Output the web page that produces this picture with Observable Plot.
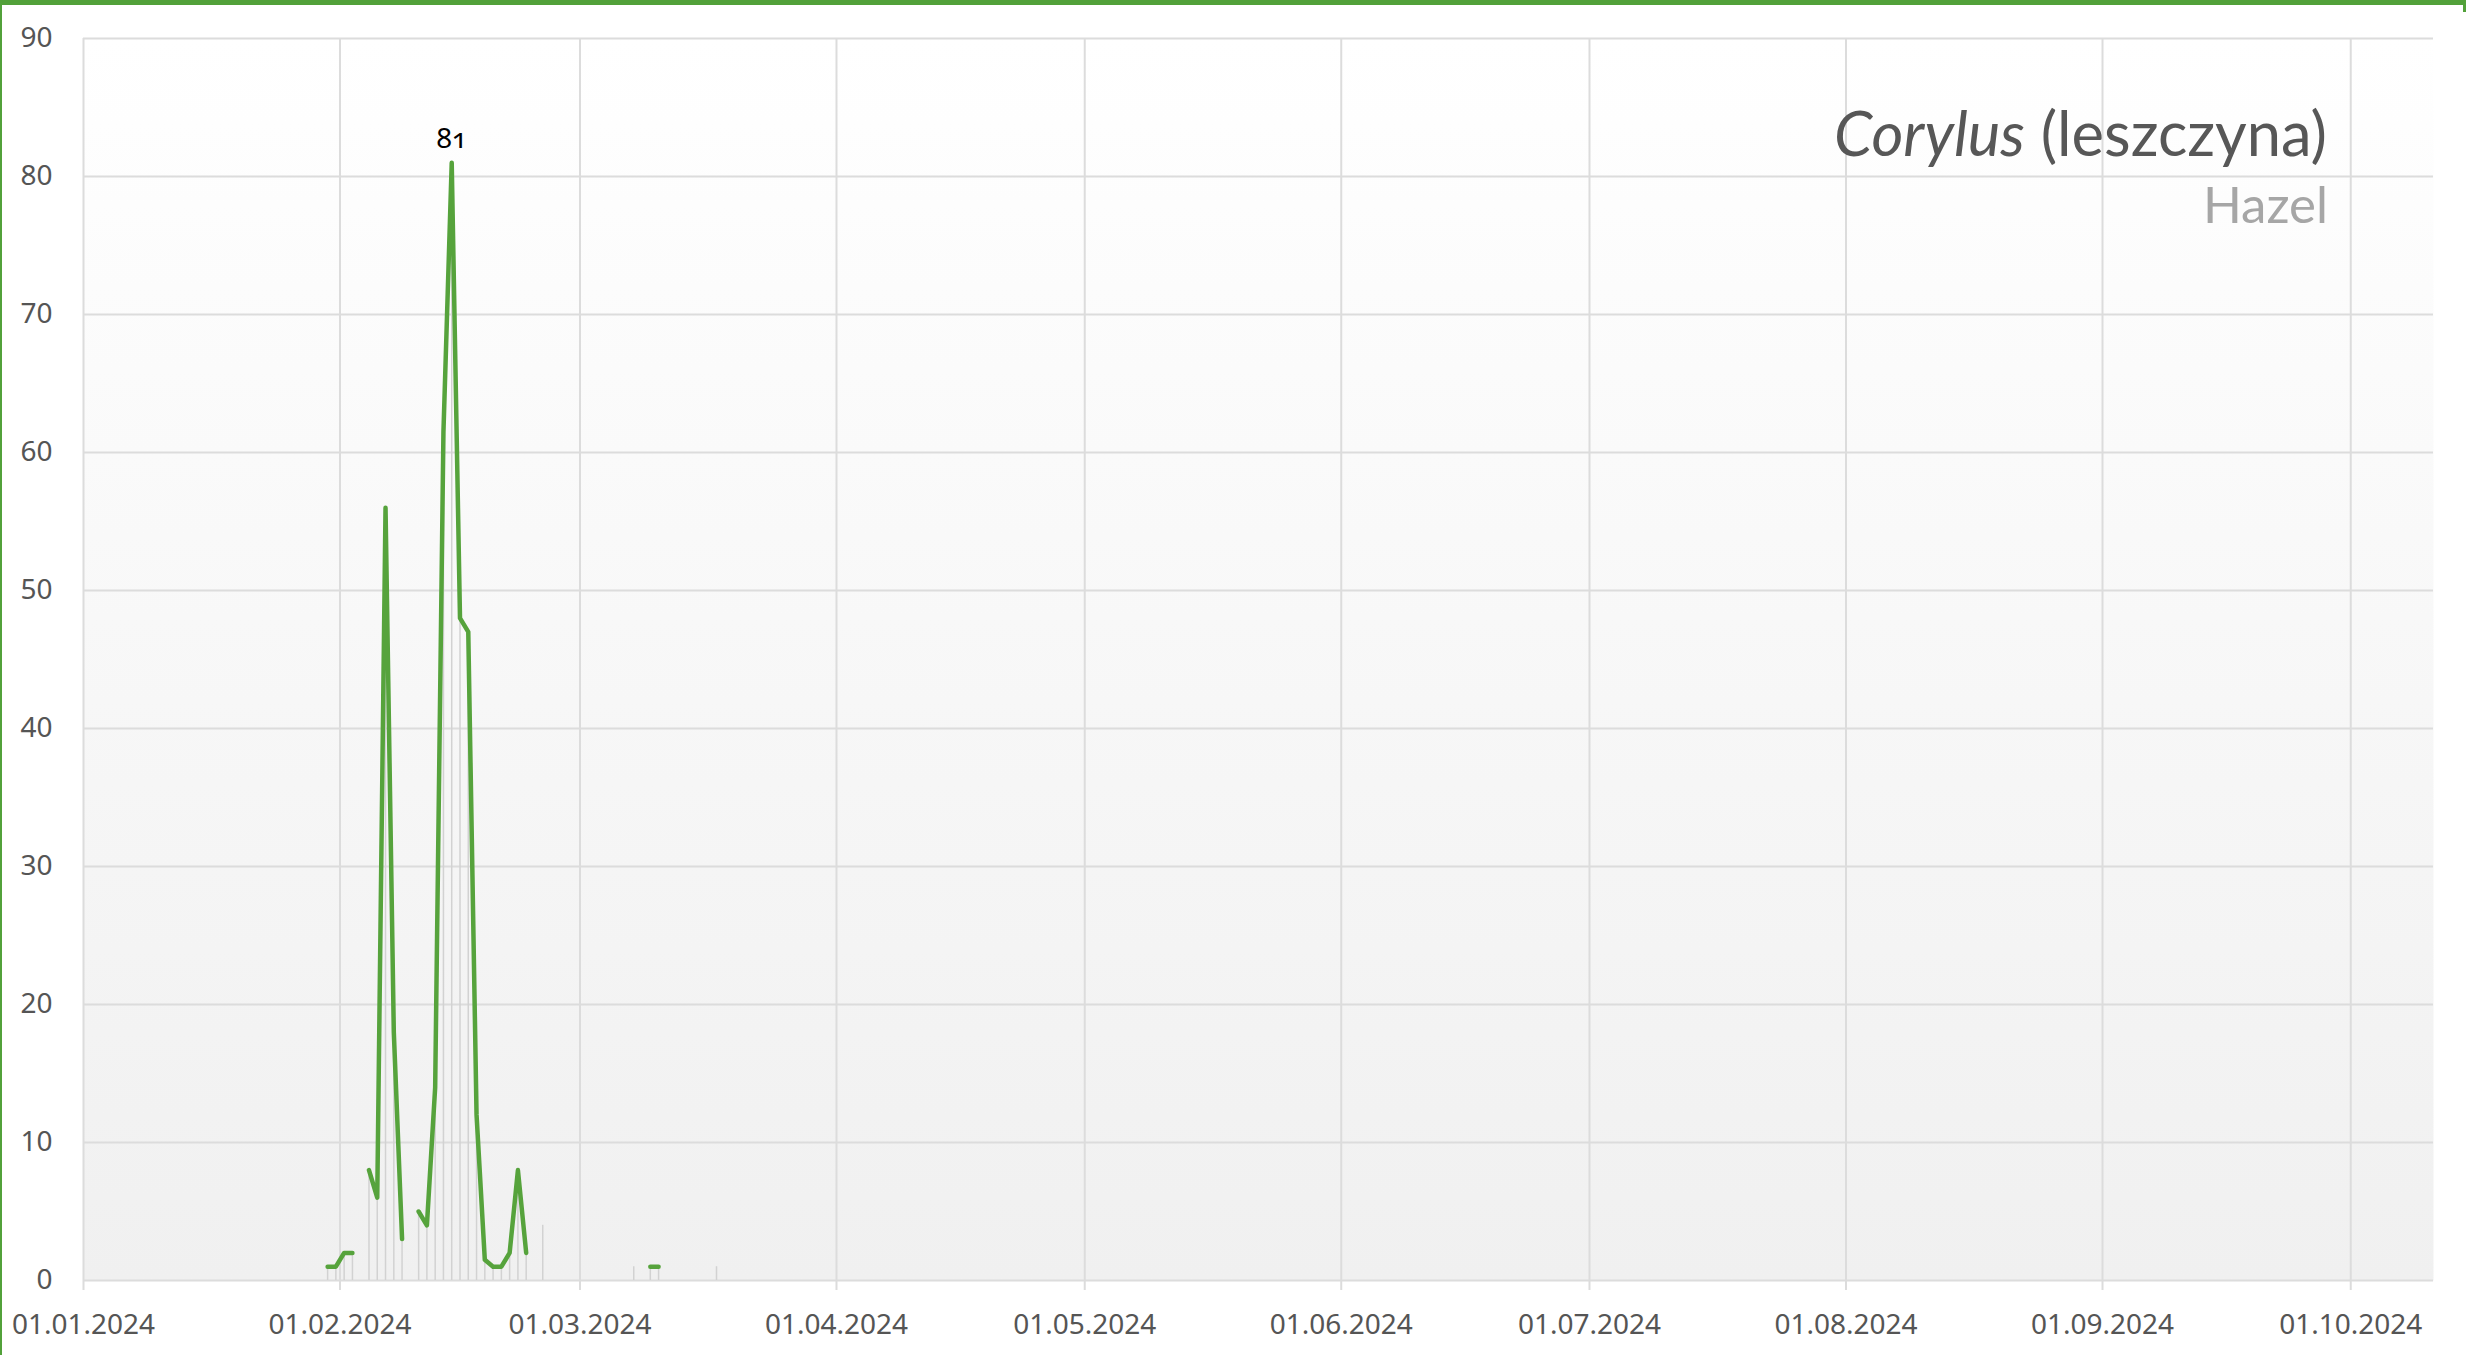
<!DOCTYPE html>
<html><head><meta charset="utf-8">
<script src="https://cdn.jsdelivr.net/npm/d3@7"></script>
<script src="https://cdn.jsdelivr.net/npm/@observablehq/plot@0.6"></script>
<style>
html,body{margin:0;padding:0;background:#fff;}
#wrap{position:relative;width:2466px;height:1355px;overflow:hidden;}
.edge{position:absolute;background:#52a13a;}
</style></head><body>
<div id="wrap"></div>
<script>
// ---- data ----
const days = [
  "2024-01-30","2024-01-31","2024-02-01","2024-02-02","2024-02-03","2024-02-04","2024-02-05",
  "2024-02-06","2024-02-07","2024-02-08","2024-02-09","2024-02-10","2024-02-11","2024-02-12",
  "2024-02-13","2024-02-14","2024-02-15","2024-02-16","2024-02-17","2024-02-18","2024-02-19",
  "2024-02-20","2024-02-21","2024-02-22","2024-02-23","2024-02-24","2024-02-25","2024-02-26",
  "2024-02-27","2024-02-28","2024-02-29","2024-03-01","2024-03-02","2024-03-03","2024-03-04",
  "2024-03-05","2024-03-06","2024-03-07","2024-03-08","2024-03-09","2024-03-10","2024-03-11",
  "2024-03-12","2024-03-13","2024-03-14","2024-03-15","2024-03-16","2024-03-17"
];
const values = [
  1, 1, 2, 2, null, 8, 6,
  56, 18, 3, null, 5, 4, 14,
  61.5, 81, 48, 47, 12, 1.5, 1,
  1, 2, 8, 2, null, 4, null,
  null, null, null, null, null, null, null,
  null, null, 1, null, 1, 1, null,
  null, null, null, null, null, 1
];
const yTicks = [0, 10, 20, 30, 40, 50, 60, 70, 80, 90];
const monthTicks = ["2024-01-01","2024-02-01","2024-03-01","2024-04-01","2024-05-01",
  "2024-06-01","2024-07-01","2024-08-01","2024-09-01","2024-10-01"];
const xDomain = ["2024-01-01", "2024-10-11"];
const titleLatin = "Corylus";
const titleLocal = "(leszczyna)";
const titleEnglish = "Hazel";

// ---- build ----
const day = s => new Date(s + "T00:00:00Z");
const noon = s => new Date(day(s).getTime() + 12 * 3600e3);
const data = days.map((d, i) => ({date: noon(d), value: values[i]}));
const present = data.filter(d => d.value != null);
// the line is only drawn between consecutive measured days (isolated days show no line)
const lineData = data.map((d, i) => {
  const prev = i > 0 ? data[i - 1].value : null;
  const next = i < data.length - 1 ? data[i + 1].value : null;
  return {date: d.date, value: (d.value != null && (prev != null || next != null)) ? d.value : null};
});
const ticks = monthTicks.map(day);
const fmt = d3.utcFormat("%d.%m.%Y");
const green = "#56a33c";
const gridColor = "#dcdcdc";

const chart = Plot.plot({
  width: 2466,
  height: 1355,
  marginLeft: 83,
  marginRight: 33,
  marginTop: 38,
  marginBottom: 75,
  style: "background:transparent;font-family:'Noto Sans';font-size:28px;color:#555;font-variant-numeric:oldstyle-nums;",
  x: {type: "utc", domain: xDomain.map(day)},
  y: {domain: [0, 90]},
  marks: [
    Plot.frame({fill: "url(#bgGrad)", stroke: null}),
    Plot.ruleY(yTicks, {stroke: gridColor, strokeWidth: 2}),
    Plot.ruleX(ticks, {stroke: gridColor, strokeWidth: 2, insetBottom: -10}),
    Plot.axisY({ticks: yTicks, tickSize: 0, tickPadding: 31, fill: "#555", label: null}),
    Plot.axisX({ticks: ticks, tickFormat: fmt, tickSize: 0, tickPadding: 34, fill: "#555", label: null}),
    Plot.ruleX(present, {x: "date", y1: 0, y2: "value", stroke: "#d2d2d2", strokeWidth: 1.5}),
    Plot.line(lineData, {x: "date", y: "value", stroke: green, strokeWidth: 4.5,
      strokeLinejoin: "round", strokeLinecap: "round"}),
    Plot.text(present, Plot.selectMaxY({x: "date", y: "value", text: d => String(d.value),
      dy: -24, fill: "#000", fontSize: 28}))
  ]
});

const svg = d3.select(chart);
svg.insert("defs", ":first-child").html(
  '<linearGradient id="bgGrad" x1="0" y1="0" x2="0" y2="1">' +
  '<stop offset="0" stop-color="#ffffff"/><stop offset="1" stop-color="#f0f0f0"/></linearGradient>');

const t = svg.append("text")
  .attr("x", 2327).attr("y", 156)
  .attr("text-anchor", "end")
  .attr("font-family", "Lato").attr("font-size", 61.5).attr("fill", "#575757")
  .style("font-variant-numeric", "normal");
t.append("tspan").attr("font-style", "italic").text(titleLatin);
t.append("tspan").text(" " + titleLocal);
svg.append("text")
  .attr("x", 2328).attr("y", 223)
  .attr("text-anchor", "end")
  .attr("font-family", "Lato").attr("font-size", 51).attr("fill", "#a6a6a6")
  .text(titleEnglish);

const wrap = document.getElementById("wrap");
wrap.appendChild(chart);
chart.style.position = "absolute";
chart.style.left = "0px";
chart.style.top = "0px";
for (const [l, t2, w, h] of [[0, 0, 2466, 5], [0, 0, 2, 1355], [2463, 0, 3, 12]]) {
  const e = document.createElement("div");
  e.className = "edge";
  Object.assign(e.style, {left: l + "px", top: t2 + "px", width: w + "px", height: h + "px"});
  wrap.appendChild(e);
}
</script>
</body></html>
